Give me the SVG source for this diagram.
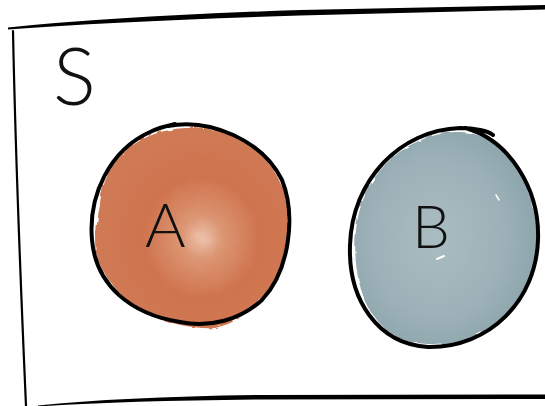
<svg xmlns="http://www.w3.org/2000/svg" width="545" height="406" viewBox="0 0 545 406">
<style>
.ink{fill:none;stroke:#000;stroke-linecap:round;stroke-linejoin:round}
.lbl{font-family:Lato,"Open Sans",sans-serif;font-weight:300;fill:#111}
</style>
<defs>
<radialGradient id="gA" cx="0.55" cy="0.55" r="0.55" fx="0.55" fy="0.55">
<stop offset="0" stop-color="#ecc2ac"/>
<stop offset="0.2" stop-color="#dc9572"/>
<stop offset="0.55" stop-color="#cf744e"/>
<stop offset="1" stop-color="#d07a55"/>
</radialGradient>
<radialGradient id="gB" cx="0.45" cy="0.5" r="0.6">
<stop offset="0" stop-color="#a9bcc1"/>
<stop offset="0.6" stop-color="#9db2b8"/>
<stop offset="1" stop-color="#8aa2aa"/>
</radialGradient>
<filter id="wc" x="-10%" y="-10%" width="120%" height="120%">
<feTurbulence type="fractalNoise" baseFrequency="0.08" numOctaves="2" seed="3"/>
<feDisplacementMap in="SourceGraphic" scale="5"/>
</filter>
</defs>
<rect width="545" height="406" fill="#fff"/>
<g id="S">
<path d="M8,27.5 Q120,16 300,10 L545,5 L545,9.5 L300,15.5 Q120,21 8,29.5 Z" fill="#000"/>
<path class="ink" stroke-width="2.2" d="M13,31 Q16,180 26,406"/>
<path d="M38,405.5 Q120,397 260,395 L545,394.5 L545,399 L260,399.5 Q120,401 38,406.5 Z" fill="#000"/>
<text class="lbl" x="53" y="105" font-size="80">S</text>
</g>
<g id="A">
<path d="M100,205 C105,150 150,128 190,128 C245,128 285,165 288,215 C290,270 260,318 215,328 C180,330 120,315 98,260 C94,240 97,220 100,205 Z" fill="url(#gA)" filter="url(#wc)"/>
<path class="ink" stroke-width="4" d="M168,126 C210,118 262,140 282,180 C296,215 290,270 262,300 C240,320 210,328 180,322 C130,314 96,285 92,240 C88,195 110,150 150,132 C158,128 166,126 175,124"/>
<text class="lbl" x="145" y="247" font-size="62">A</text>
</g>
<g id="B">
<path d="M356,230 C362,170 410,132 460,132 C510,134 538,190 537,245 C535,300 490,345 428,345 C380,343 350,300 356,230 Z" fill="url(#gB)" filter="url(#wc)"/>
<path class="ink" stroke-width="4" d="M465,128 C510,140 540,190 538,240 C536,300 490,348 428,347 C378,344 348,300 350,245 C352,180 400,130 460,128 C475,128 488,131 493,135"/>
<path d="M437,259 L444,256" stroke="#fff" stroke-width="2" stroke-linecap="round"/>
<path d="M496,195 L499,200" stroke="#fff" stroke-width="1.5" stroke-linecap="round"/>
<text class="lbl" x="412" y="248" font-size="60">B</text>
</g>
<g id="connectors"/>
</svg>
